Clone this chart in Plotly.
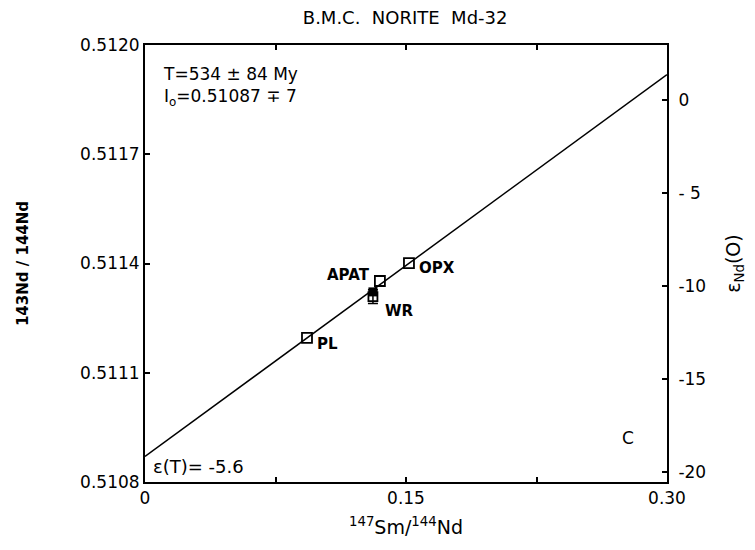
import plotly.graph_objects as go

# Data
mineral_names = ["PL", "APAT", "OPX"]
mineral_x = [0.0931, 0.1350, 0.1517]
mineral_y = [0.511196, 0.511352, 0.511401]

wr_x = [0.1310]
wr_y_filled = [0.511322]
wr_y_open = [0.511309]
wr_err = [0.000019]

line_x = [0.0, 0.30]
line_y = [0.51087, 0.511919]

x_ticks = [0.0, 0.15, 0.30]
x_ticktext = ["0", "0.15", "0.30"]
y_ticks = [0.5108, 0.5111, 0.5114, 0.5117, 0.5120]
y_ticktext = ["0.5108", "0.5111", "0.5114", "0.5117", "0.5120"]
eps_ticks = [0, -5, -10, -15, -20]
eps_ticktext = ["0", "- 5", "-10", "-15", "-20"]

chur = 0.51185
y_range = [0.5108, 0.5120]
eps_range = [(y_range[0] / chur - 1) * 1e4, (y_range[1] / chur - 1) * 1e4]

FONT = "DejaVu Sans"
fig = go.Figure()

fig.add_trace(go.Scatter(x=line_x, y=line_y, mode="lines",
                         line=dict(color="black", width=1.5), hoverinfo="skip"))
fig.add_trace(go.Scatter(x=mineral_x, y=mineral_y, mode="markers",
                         marker=dict(symbol="square-open", size=10, color="black",
                                     line=dict(width=1.8))))
fig.add_trace(go.Scatter(x=wr_x, y=wr_y_open, mode="markers",
                         error_y=dict(type="data", array=wr_err, color="black",
                                      thickness=1.5, width=5),
                         marker=dict(symbol="square-open", size=9, color="black",
                                     line=dict(width=1.8))))
fig.add_trace(go.Scatter(x=wr_x, y=wr_y_filled, mode="markers",
                         marker=dict(symbol="square", size=9, color="black")))
# invisible trace to activate the right axis
fig.add_trace(go.Scatter(x=[0.3], y=[0], yaxis="y2", mode="markers",
                         marker=dict(opacity=0), hoverinfo="skip"))

ann_font = dict(family=FONT, size=15, color="black")
label_pos = {"PL": (8, -6, "left"), "APAT": (-8, 6, "right"), "OPX": (8, -5, "left")}
for n, x, y in zip(mineral_names, mineral_x, mineral_y):
    dx, dy, al = label_pos[n]
    fig.add_annotation(x=x, y=y, text="<b>%s</b>" % n, showarrow=False,
                       xanchor=al, yanchor="middle", xshift=dx, yshift=dy, font=ann_font)
fig.add_annotation(x=wr_x[0], y=wr_y_open[0], text="<b>WR</b>", showarrow=False,
                   xanchor="left", yanchor="middle", xshift=10, yshift=-14, font=ann_font)

fig.add_annotation(xref="paper", yref="paper", x=0.03, y=0.96, xanchor="left",
                   yanchor="top", align="left", showarrow=False,
                   text="T=534 ± 84 My<br>I<sub>o</sub>=0.51087 ∓ 7",
                   font=dict(family=FONT, size=17, color="black"))
fig.add_annotation(xref="paper", yref="paper", x=0.012, y=0.008, xanchor="left",
                   yanchor="bottom", showarrow=False, text="ε(T)= -5.6",
                   font=dict(family=FONT, size=18, color="black"))
fig.add_annotation(xref="paper", yref="paper", x=0.925, y=0.10, xanchor="center",
                   yanchor="middle", showarrow=False, text="C",
                   font=dict(family=FONT, size=17, color="black"))

axis_common = dict(showline=True, linecolor="black", linewidth=2, ticks="inside",
                   ticklen=5, tickwidth=1.5, tickcolor="black", showgrid=False,
                   zeroline=False, automargin=False,
                   tickfont=dict(family=FONT, size=17, color="black"))

fig.update_layout(
    width=755, height=550,
    margin=dict(l=137, r=96, t=37, b=76),
    paper_bgcolor="white", plot_bgcolor="white",
    showlegend=False,
    title=dict(text="B.M.C.  NORITE  Md-32", x=0.526, xanchor="center", y=0.982,
               yanchor="middle", font=dict(family=FONT, size=18, color="black")),
    xaxis=dict(range=[0, 0.30], tickvals=x_ticks, ticktext=x_ticktext, mirror="ticks",
               minor=dict(dtick=0.075, tick0=0, ticks="inside", ticklen=5,
                          tickwidth=1.5, tickcolor="black", showgrid=False),
               title=dict(text="<sup>147</sup>Sm/<sup>144</sup>Nd", standoff=13,
                          font=dict(family=FONT, size=19, color="black")),
               **axis_common),
    yaxis=dict(range=y_range, tickvals=y_ticks, ticktext=y_ticktext, mirror=True,
               title=dict(text="<b>143Nd / 144Nd</b>", standoff=48,
                          font=dict(family=FONT, size=15, color="black")),
               **axis_common),
    yaxis2=dict(range=eps_range, overlaying="y", side="right", tickvals=eps_ticks,
                ticktext=eps_ticktext, ticklabelstandoff=6,
                title=dict(text="ε<sub>Nd</sub>(O)", standoff=22,
                           font=dict(family=FONT, size=19, color="black")),
                **axis_common),
)

fig.write_html("out.html")
